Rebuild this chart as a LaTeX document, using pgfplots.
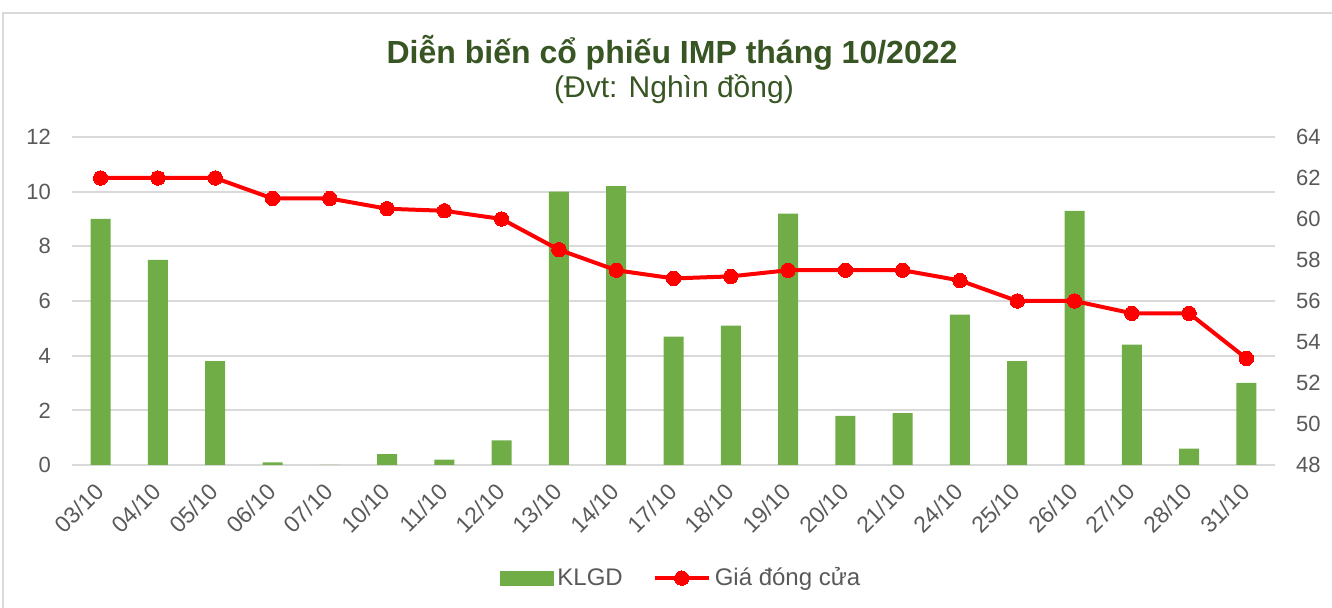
\documentclass[border=0pt]{standalone}
\usepackage{fontspec}
\setmainfont{Liberation Sans}
\usepackage{pgfplots}
\pgfplotsset{compat=1.18}
\usepackage{pgfplotstable}
\definecolor{barg}{RGB}{112,173,71}
\definecolor{titg}{RGB}{55,86,35}
\definecolor{tickc}{RGB}{89,89,89}
\definecolor{gridc}{RGB}{217,217,217}

\pgfplotstableread{
x lbl klgd gia
0 03/10 9.0 62.0
1 04/10 7.5 62.0
2 05/10 3.8 62.0
3 06/10 0.1 61.0
4 07/10 0.0 61.0
5 10/10 0.4 60.5
6 11/10 0.2 60.4
7 12/10 0.9 60.0
8 13/10 10.0 58.5
9 14/10 10.2 57.5
10 17/10 4.7 57.1
11 18/10 5.1 57.2
12 19/10 9.2 57.5
13 20/10 1.8 57.5
14 21/10 1.9 57.5
15 24/10 5.5 57.0
16 25/10 3.8 56.0
17 26/10 9.3 56.0
18 27/10 4.4 55.4
19 28/10 0.6 55.4
20 31/10 3.0 53.2
}\data

\pgfplotsset{
  mylegline/.style={legend image code/.code={\draw[mark repeat=2,mark phase=2,##1] plot coordinates {(0pt,0pt) (13.5pt,0pt) (27pt,0pt)};}},
  mylegbar/.style={legend image code/.code={\fill[barg] (0pt,-3.5pt) rectangle (26.5pt,3.5pt);}},
  common/.style={
    at={(36pt,71.5pt)}, anchor=south west, scale only axis,
    width=601.5pt, height=164pt,
    xmin=-0.5, xmax=20.5,
    axis line style={draw=none},
    major tick length=0pt,
    /pgf/number format/assume math mode=true,
    tick label style={font=\fontsize{11}{13}\selectfont, text=tickc},
  }
}

\begin{document}
\begin{tikzpicture}
\useasboundingbox (0,0) rectangle (666pt,304pt);
\draw[gridc, line width=1pt] (1.5pt,-20pt) rectangle (700pt,297.5pt);
\begin{axis}[common,
  ymin=0, ymax=12, ytick={0,2,...,12},
  xtick=data, xticklabels from table={\data}{lbl},
  xticklabel style={rotate=45, anchor=north east, xshift=-5pt, font=\fontsize{11.5}{13}\selectfont},
  ymajorgrids, grid style={gridc, line width=1pt},
  yticklabel style={xshift=-7pt},
]
\addplot[ybar, bar width=10pt, fill=barg, draw=none] table[x=x,y=klgd]{\data};
\end{axis}
\begin{axis}[common,
  ymin=48, ymax=64, ytick={48,50,...,64},
  hide x axis, axis y line*=right,
  yticklabel style={xshift=7pt},
  legend columns=2,
  legend style={at={(0.507,-0.345)}, anchor=center, draw=none, fill=none,
    font=\fontsize{12}{14}\selectfont, text=tickc,
    /tikz/every even column/.append style={column sep=13pt}},
]
\addlegendimage{mylegbar}
\addlegendentry{KLGD}
\addplot[red, line width=2pt, mark=*, mark size=3.6pt, mark options={fill=red, draw=red, line width=0pt}, mylegline]
  table[x=x,y=gia]{\data};
\addlegendentry{Giá đóng cửa}
\end{axis}
\node[anchor=base, font=\fontsize{16}{19}\selectfont\bfseries, text=titg] at (336pt,272pt) {Diễn biến cổ phiếu IMP tháng 10/2022};
\node[anchor=base, font=\fontsize{15}{18}\selectfont, text=titg] at (337pt,255pt) {(Đvt: Nghìn đồng)};
\end{tikzpicture}
\end{document}
